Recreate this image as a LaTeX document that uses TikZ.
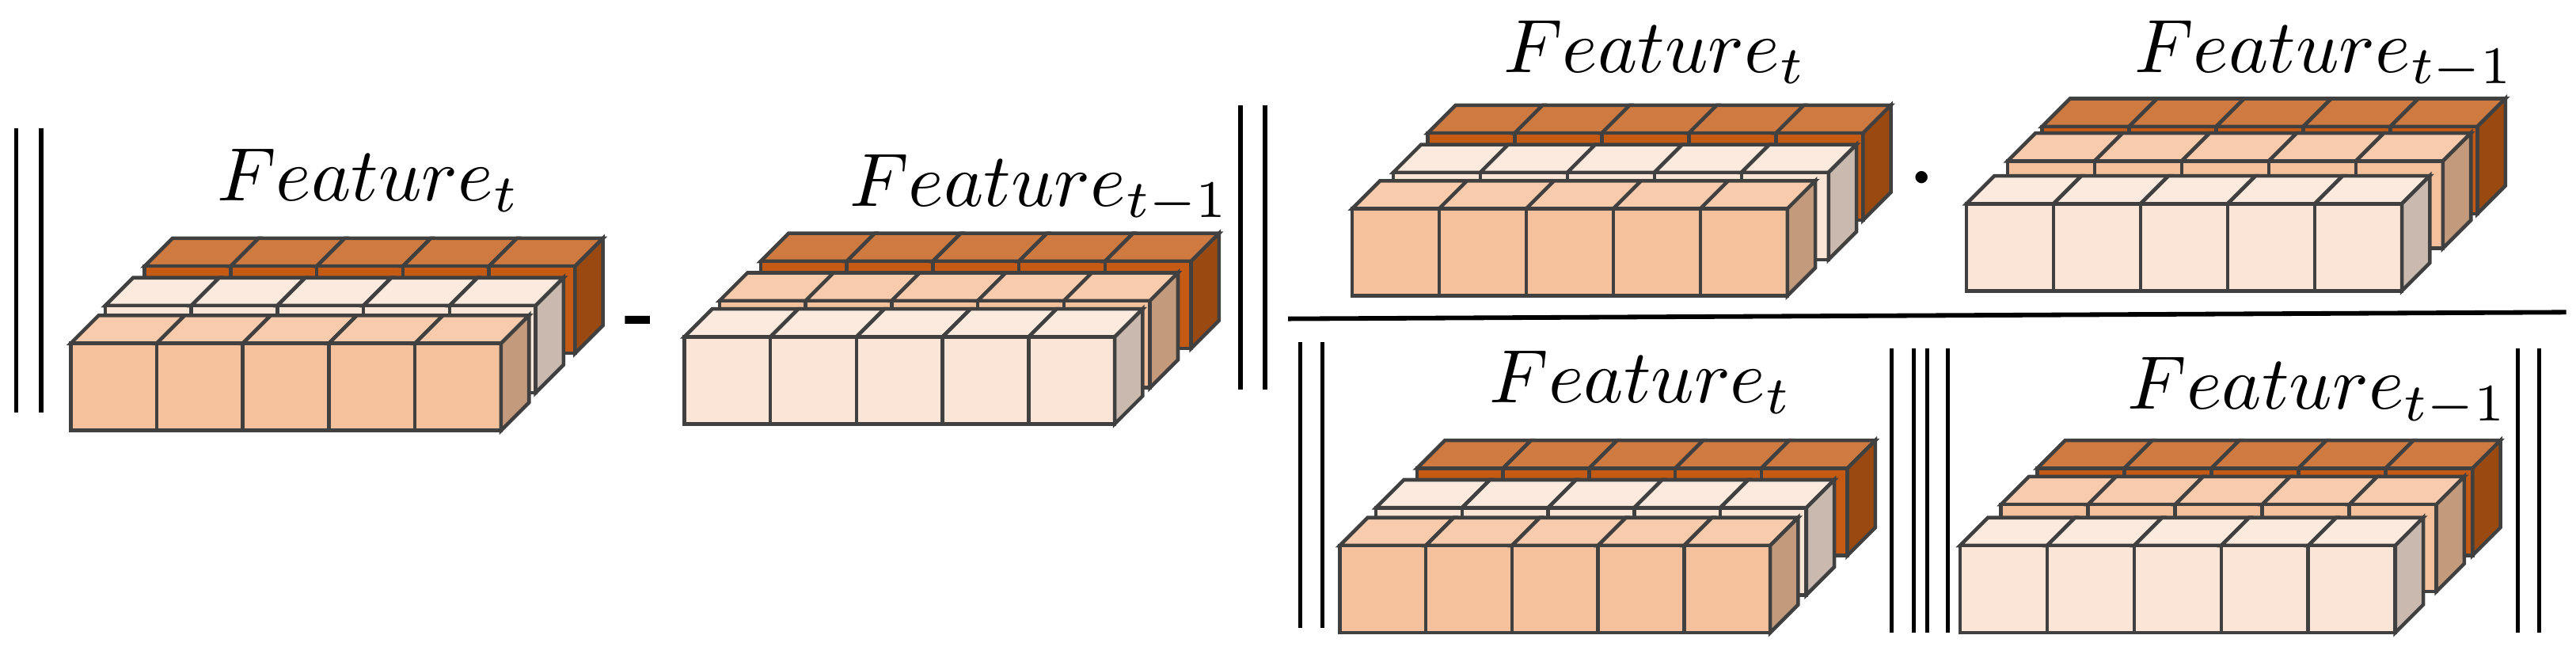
\documentclass[tikz,border=0pt]{standalone}
\usepackage{graphicx}
\begin{document}
\definecolor{dT}{HTML}{CF7A40}\definecolor{dF}{HTML}{C55A15}\definecolor{dS}{HTML}{9A4A10}
\definecolor{pT}{HTML}{FCEADE}\definecolor{pF}{HTML}{FBE5D6}\definecolor{pS}{HTML}{C9B9AE}
\definecolor{kT}{HTML}{F8CBAD}\definecolor{kF}{HTML}{F4C19C}\definecolor{kS}{HTML}{C49A7C}
\definecolor{edge}{HTML}{404040}
\newcommand{\crow}[4]{%
 \foreach \i in {0,...,4}{%
  \pgfmathsetmacro{\X}{#1+\i*#3}%
  \filldraw[cube,fill=#4T] (\X,#2)--++(17,-17)--++(#3,0)--++(-17,17)--cycle;
  \filldraw[cube,fill=#4F] (\X,#2) rectangle ++(#3,53);}
 \pgfmathsetmacro{\R}{#1+5*#3}%
 \filldraw[cube,fill=#4S] (\R,#2)--++(17,-17)--++(0,53)--++(-17,17)--cycle;}
\newcommand{\flab}[1]{\scalebox{4.6}{$#1$}}
\begin{tikzpicture}[x=1pt,y=-1pt,
 cube/.style={draw=edge,line width=2.2pt,line join=miter},
 bar/.style={line width=2.6pt},
 lab/.style={anchor=base west,inner sep=0pt}]
\useasboundingbox (0,0) rectangle (1568,400);
% block 1
\crow{88}{162}{52.4}{d}\crow{64}{186}{52.4}{p}\crow{43}{209}{52.4}{k}
\node[lab] (l1) at (132,122) {\flab{Feature_t}};
% block 2
\crow{463}{159}{52.4}{d}\crow{438}{183}{52.4}{k}\crow{416.5}{205}{52.4}{p}
\node[lab] (l2) at (517,125.5) {\flab{Feature_{t-1}}};
\node[inner sep=0pt] (minus) at (389.5,199) {\scalebox{5}{\textbf{-}}};
\draw[bar] (10,78)--(10,251) (25,78)--(25,251);
\draw[bar] (755,64)--(755,237) (770,64)--(770,237);
% block 3
\crow{869}{81}{53}{d}\crow{848}{105}{53}{p}\crow{823}{127}{53}{k}
\node[lab] (l3) at (915,44) {\flab{Feature_t}};
% block 4
\crow{1243}{77}{53}{d}\crow{1222}{98}{53}{k}\crow{1197}{124}{53}{p}
\node[lab] (l4) at (1299,44) {\flab{Feature_{t-1}}};
\node[inner sep=0pt] (dot) at (1170,110) {\scalebox{7}{$\cdot$}};
\draw[line width=2.8pt] (784,194)--(1562,190);
% block 5
\crow{862.5}{285}{52.4}{d}\crow{837.5}{309}{52.4}{p}\crow{815.5}{332}{52.4}{k}
\node[lab] (l5) at (906.5,245) {\flab{Feature_t}};
% block 6
\crow{1240}{285}{53}{d}\crow{1218}{307}{53}{k}\crow{1193}{332}{53}{p}
\node[lab] (l6) at (1295,249) {\flab{Feature_{t-1}}};
\draw[bar] (791.5,208)--(791.5,382) (805,208)--(805,382);
\draw[bar] (1151.5,212)--(1151.5,385) (1165,212)--(1165,385) (1173,212)--(1173,385) (1185.5,212)--(1185.5,385);
\draw[bar] (1532.5,212)--(1532.5,385) (1545.5,212)--(1545.5,385);
\end{tikzpicture}
\end{document}
